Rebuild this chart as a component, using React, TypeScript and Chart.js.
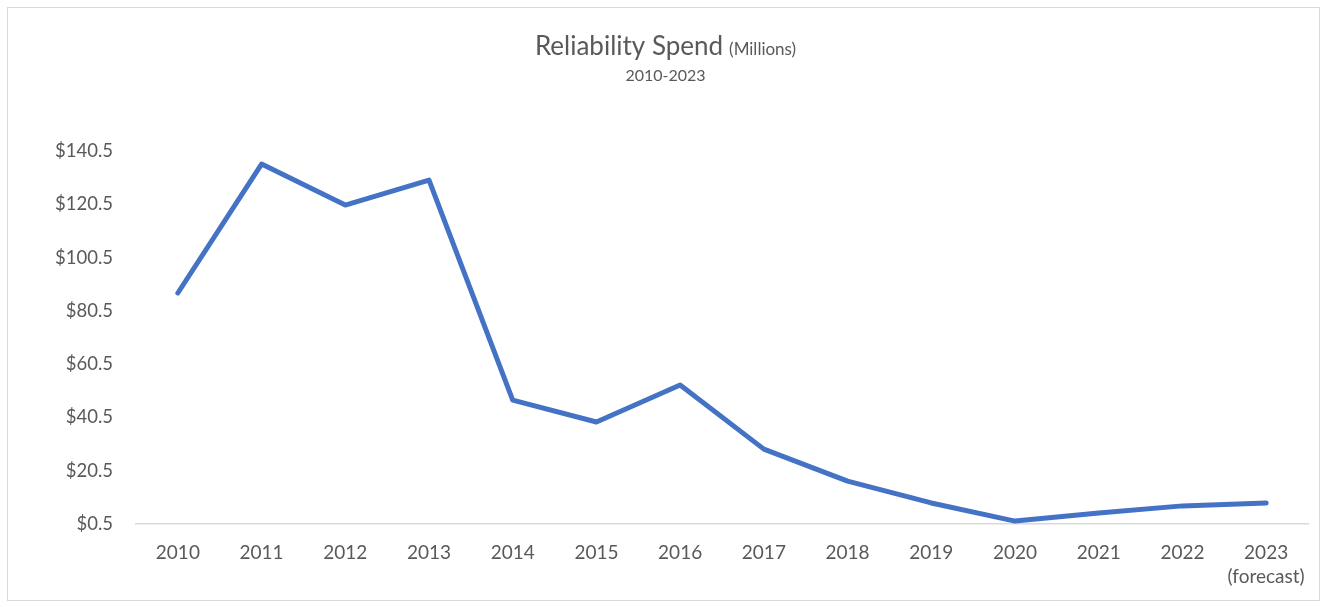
import React, { useEffect, useRef } from "react";
import { Chart, registerables } from "chart.js";

Chart.register(...registerables);

const categories: (string | string[])[] = [
  "2010", "2011", "2012", "2013", "2014", "2015", "2016",
  "2017", "2018", "2019", "2020", "2021", "2022", ["2023", "(forecast)"],
];
const spend: number[] = [87.2, 135.6, 120.2, 129.6, 47.0, 38.8, 52.7, 28.6, 16.6, 8.4, 1.6, 4.6, 7.3, 8.4];
const yMin = 0.5;
const yMax = 140.5;
const yStep = 20;
const titleMain = "Reliability Spend";
const titleUnit = "(Millions)";
const subtitle = "2010-2023";

const FONT = "Lato, 'Open Sans', sans-serif";
const TEXT = "#595959";

const titlePlugin = {
  id: "mixedTitle",
  afterDraw(chart: any) {
    const ctx = chart.ctx;
    const cx = chart.width / 2 + 2;
    ctx.save();
    ctx.fillStyle = TEXT;
    ctx.textBaseline = "alphabetic";
    ctx.textAlign = "left";
    ctx.font = `26px ${FONT}`;
    const w1 = ctx.measureText(titleMain).width;
    ctx.font = `17px ${FONT}`;
    const gap = 6;
    const w2 = ctx.measureText(titleUnit).width;
    const x0 = cx - (w1 + gap + w2) / 2;
    ctx.font = `26px ${FONT}`;
    ctx.fillText(titleMain, x0, 55);
    ctx.font = `17px ${FONT}`;
    ctx.fillText(titleUnit, x0 + w1 + gap, 55);
    ctx.font = `16px ${FONT}`;
    ctx.textAlign = "center";
    ctx.fillText(subtitle, cx, 81);
    ctx.restore();
  },
};

export default function App() {
  const ref = useRef<HTMLCanvasElement | null>(null);
  useEffect(() => {
    if (!ref.current) return;
    const chart = new Chart(ref.current, {
      type: "line",
      data: {
        labels: categories,
        datasets: [
          {
            data: spend,
            borderColor: "#4472C4",
            borderWidth: 5,
            pointRadius: 0,
            tension: 0,
            fill: false,
            borderJoinStyle: "round",
            borderCapStyle: "round",
          },
        ],
      },
      options: {
        animation: false,
        responsive: false,
        maintainAspectRatio: false,
        layout: { padding: { top: 151, left: 0, right: 19, bottom: 0 } },
        plugins: {
          legend: { display: false },
          title: { display: false },
          tooltip: { enabled: false },
        },
        scales: {
          x: {
            offset: true,
            grid: { display: false, drawTicks: false },
            border: { display: true, color: "#d9d9d9", width: 1.5 },
            ticks: {
              color: TEXT,
              font: { family: FONT, size: 19, lineHeight: 1.25 },
              padding: 17,
              maxRotation: 0,
              autoSkip: false,
            },
            afterFit: (s: any) => { s.height = 83; },
          },
          y: {
            min: yMin,
            max: yMax,
            grid: { display: false, drawTicks: false },
            border: { display: false },
            ticks: {
              stepSize: yStep,
              color: TEXT,
              font: { family: FONT, size: 18.5 },
              padding: 23,
              callback: (v: any) => "$" + Number(v).toFixed(1),
            },
            afterFit: (s: any) => { s.width = 136; },
          },
        },
      },
      plugins: [titlePlugin],
    });
    return () => chart.destroy();
  }, []);

  return (
    <div style={{ position: "absolute", left: 0, top: 0, width: 1327, height: 607, background: "#fff" }}>
      <div
        style={{
          position: "absolute",
          left: 7,
          top: 7,
          width: 1313,
          height: 594,
          border: "1.5px solid #d9d9d9",
          boxSizing: "border-box",
        }}
      />
      <canvas ref={ref} width={1327} height={607} style={{ position: "absolute", left: 0, top: 0 }} />
    </div>
  );
}
